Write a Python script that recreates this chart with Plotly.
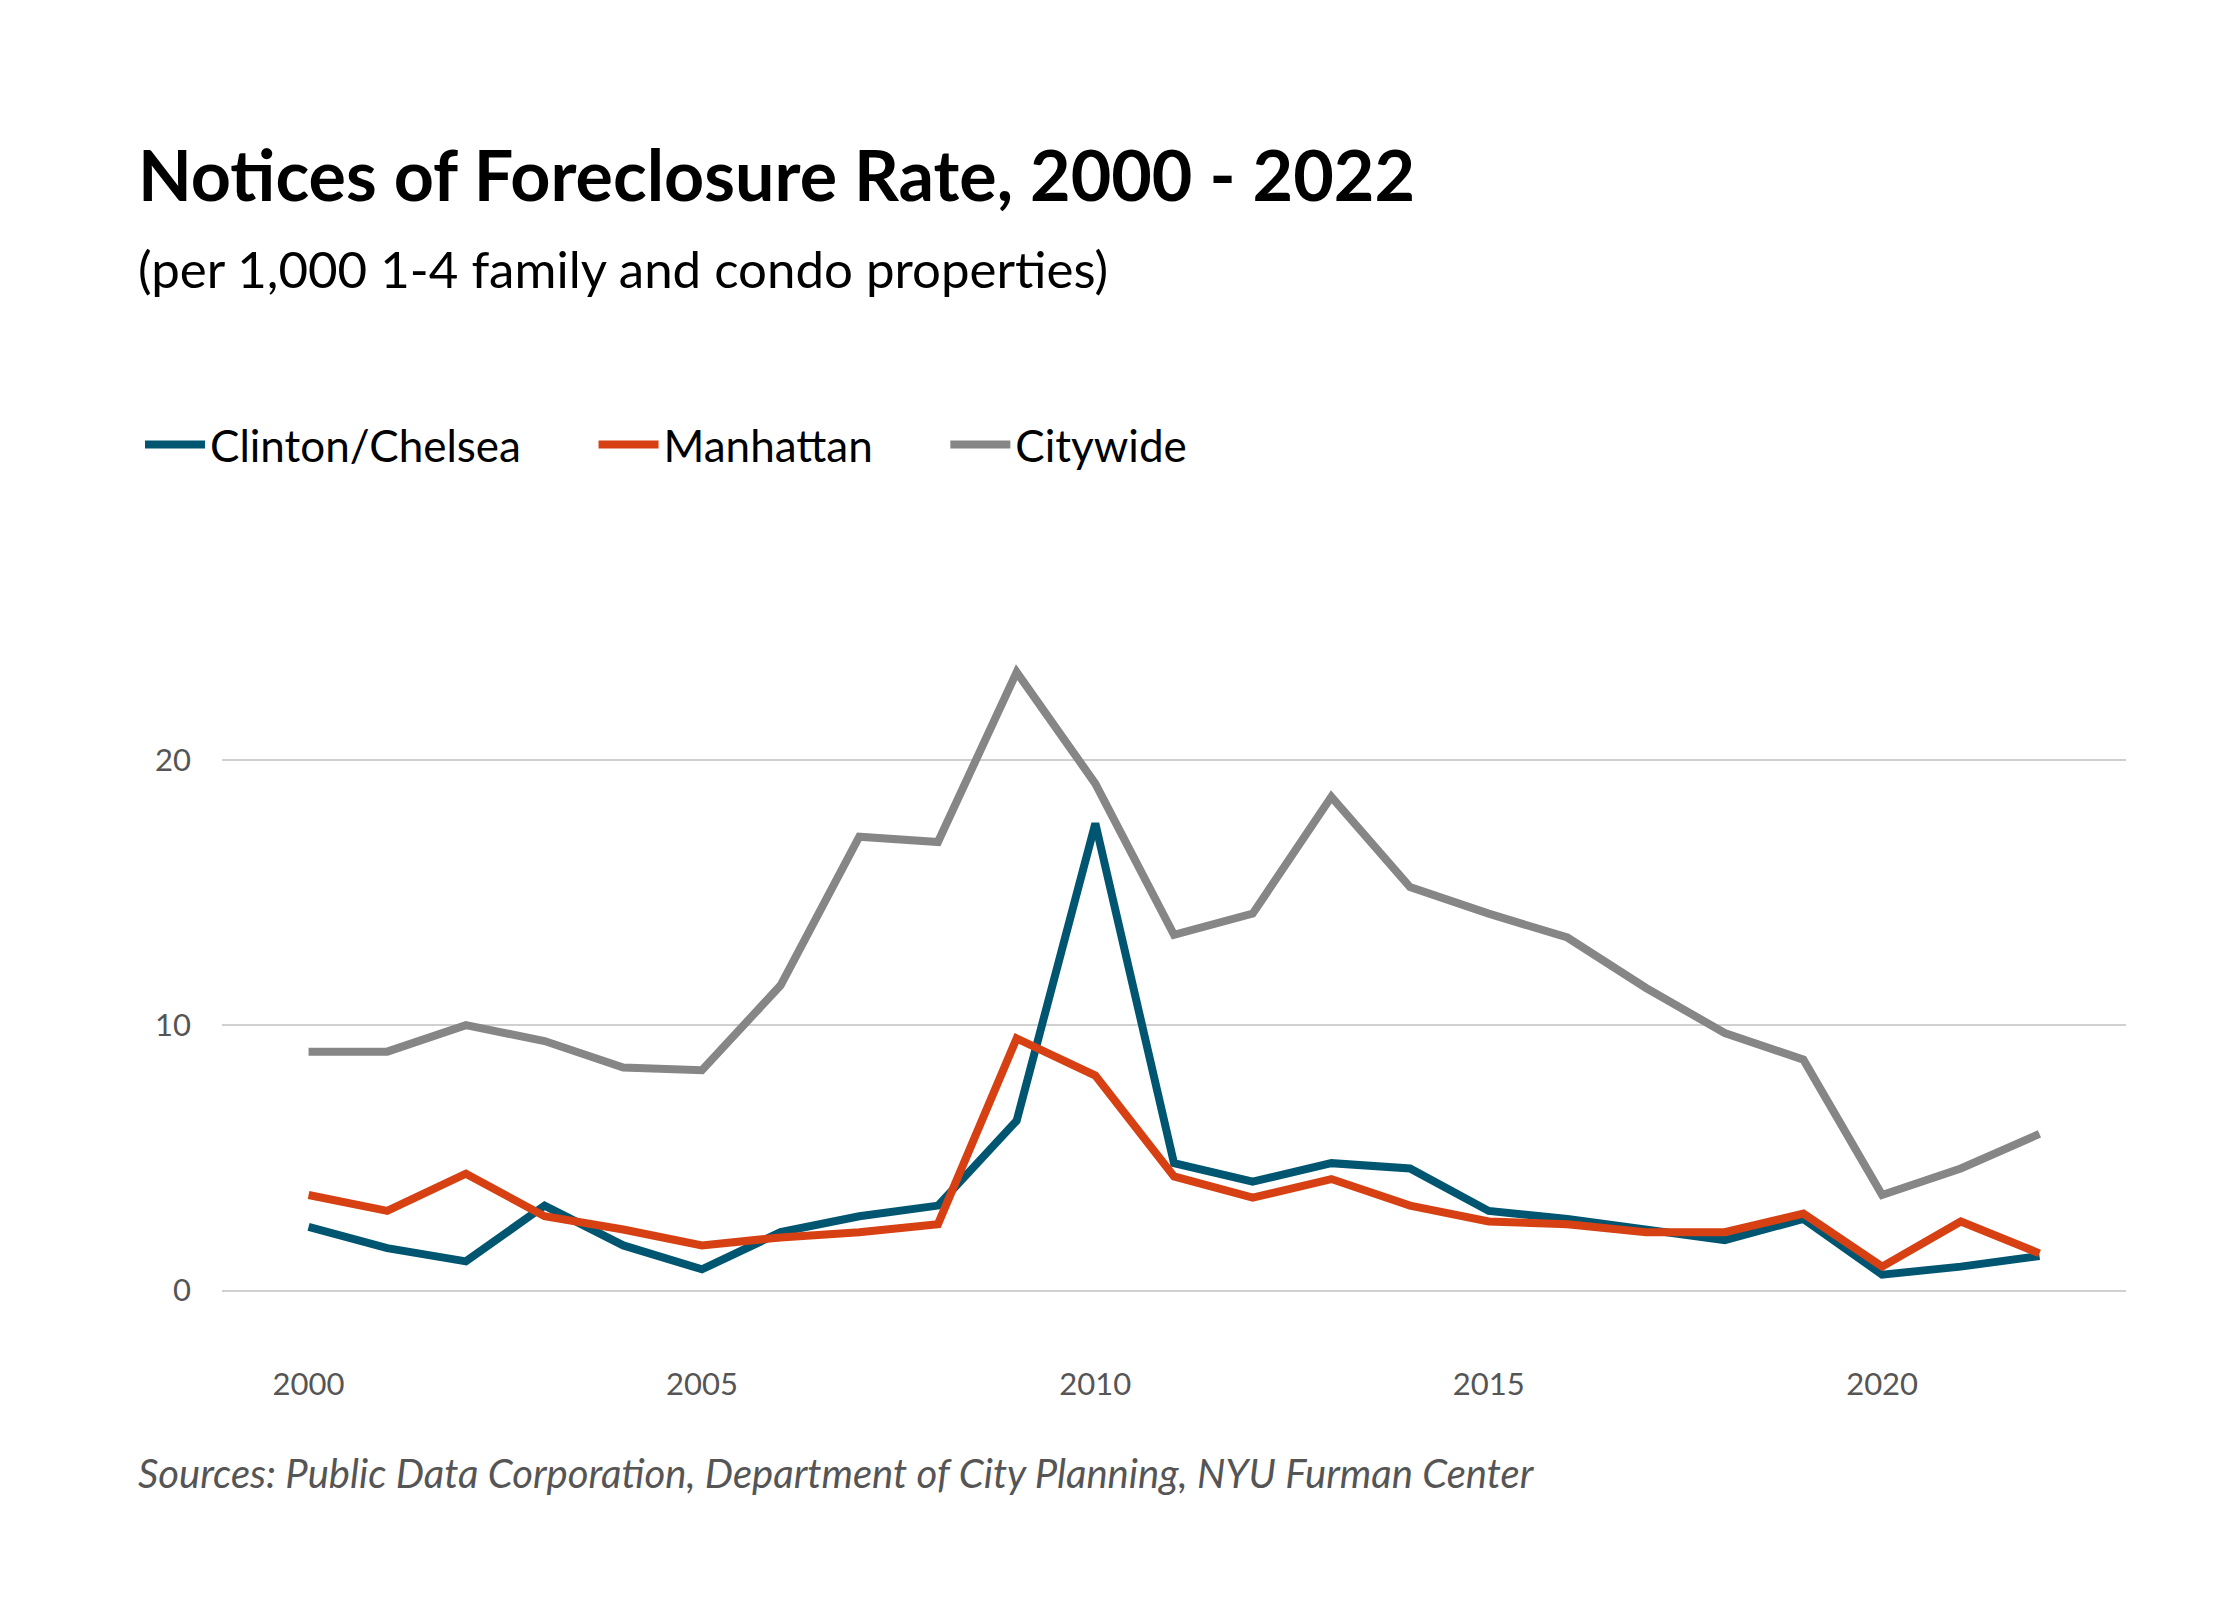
import plotly.graph_objects as go

years = list(range(2000, 2023))
clinton = [2.4, 1.6, 1.1, 3.2, 1.7, 0.8, 2.2, 2.8, 3.2, 6.4, 17.6, 4.8, 4.1, 4.8, 4.6, 3.0, 2.7, 2.3, 1.9, 2.7, 0.6, 0.9, 1.3]
manhattan = [3.6, 3.0, 4.4, 2.8, 2.3, 1.7, 2.0, 2.2, 2.5, 9.5, 8.1, 4.3, 3.5, 4.2, 3.2, 2.6, 2.5, 2.2, 2.2, 2.9, 0.9, 2.6, 1.4]
citywide = [9.0, 9.0, 10.0, 9.4, 8.4, 8.3, 11.5, 17.1, 16.9, 23.3, 19.1, 13.4, 14.2, 18.6, 15.2, 14.2, 13.3, 11.4, 9.7, 8.7, 3.6, 4.6, 5.9]

L, R, T, B = 214, 122, 619, 275

fig = go.Figure()
for name, vals, col in [("Clinton/Chelsea", clinton, "#005670"),
                        ("Manhattan", manhattan, "#d74012"),
                        ("Citywide", citywide, "#868686")]:
    fig.add_trace(go.Scatter(x=years, y=vals, name=name + "      ", mode="lines",
                             line=dict(color=col, width=8)))

pw, ph = 2240 - L - R, 1600 - T - B
def px_to_paper(x, y):
    return (x - L) / pw, (1600 - B - y) / ph

lx, ly = px_to_paper(132, 437)
fig.update_layout(
    width=2240, height=1600, paper_bgcolor="white", plot_bgcolor="white",
    margin=dict(l=L, r=R, t=T, b=B),
    font=dict(family="Lato", color="#000"),
    legend=dict(orientation="h", x=lx, y=ly, yanchor="middle", xanchor="left",
                font=dict(size=44), itemwidth=60),
    xaxis=dict(range=[1998.9, 2023.1], tickvals=[2000, 2005, 2010, 2015, 2020],
               showgrid=False, zeroline=False, ticks="", ticklabelstandoff=30,
               tickfont=dict(size=31, color="#555")),
    yaxis=dict(range=[-1.6, 25], tickvals=[0, 10, 20], gridcolor="#d0d0d0",
               gridwidth=2, zeroline=False, ticks="", ticklabelstandoff=30,
               tickfont=dict(size=31, color="#555")),
)

texts = [
    ("<b>Notices of Foreclosure Rate, 2000 - 2022</b>", 70, "#000", (128, 166)),
    ("(per 1,000 1-4 family and condo properties)", 51, "#000", (128, 260)),
    ("<i>Sources: Public Data Corporation, Department of City Planning, NYU Furman Center</i>",
     40, "#555", (128, 1465)),
]
for txt, size, col, (x, y) in texts:
    ax, ay = px_to_paper(x, y)
    fig.add_annotation(text=txt, x=ax, y=ay, xref="paper", yref="paper",
                       xanchor="left", yanchor="middle", showarrow=False,
                       font=dict(size=size, color=col))

fig.write_html("out.html")
